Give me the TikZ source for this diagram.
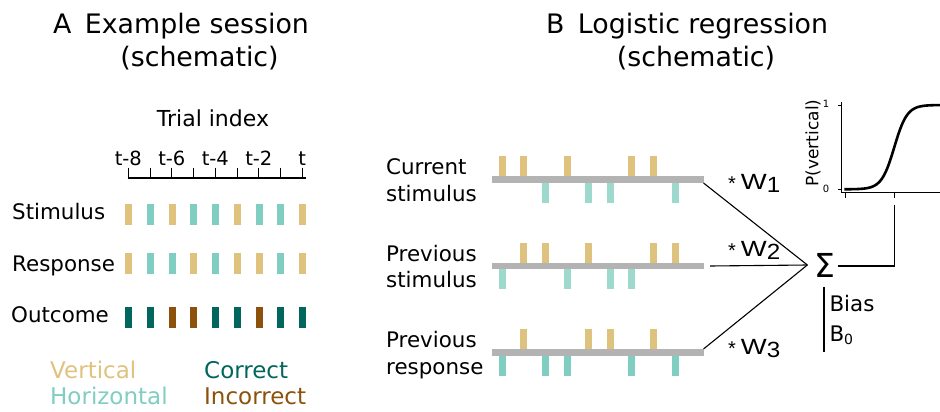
\documentclass[tikz,border=0pt]{standalone}
\usepackage{fontspec}
\setmainfont{DejaVu Sans}
\newfontfamily\arialfont{Liberation Sans}
\definecolor{vert}{HTML}{DFC27D}
\definecolor{horz}{HTML}{80CDC1}
\definecolor{horzl}{HTML}{9DD9CD}
\definecolor{corr}{HTML}{01665E}
\definecolor{incorr}{HTML}{8C510A}
\definecolor{track}{HTML}{B3B3B3}
\tikzset{
  fnt/.style={font=\fontsize{#1}{#1}\selectfont},
  lab/.style={inner sep=0pt, anchor=base west, fnt=21.4},
  ttl/.style={inner sep=0pt, anchor=base, fnt=26.8},
  tlab/.style={inner sep=0pt, anchor=base, fnt=19.5},
  leg/.style={inner sep=0pt, anchor=base west, fnt=23},
  wlab/.style={inner sep=0pt, anchor=base west, font=\arialfont\fontsize{22}{22}\selectfont},
  conn/.style={line width=1.1pt, black},
}
\newcommand{\vbar}[3]{\fill[#3] (#1-3.5,#2) rectangle (#1+3.5,#2+21);}
\newcommand{\upbar}[3]{\fill[#3] (#1-3.5,#2-3.3) rectangle (#1+3.5,#2-23.3);}
\newcommand{\dnbar}[3]{\fill[#3] (#1-3.5,#2+3.3) rectangle (#1+3.5,#2+23.3);}
\newcommand{\Wlab}[1]{\raisebox{-1pt}{\fontsize{20}{20}\selectfont *}\hspace{5pt}\scalebox{1.25}[1]{W}\raisebox{-3pt}{\scalebox{1.1}[1]{#1}}}
\begin{document}
\begin{tikzpicture}[x=1pt,y=-1pt]
\useasboundingbox (0,0) rectangle (940,412);

% ---------- Panel A ----------
\node[ttl, anchor=base west] (tA1) at (53,33.3) {A\hspace{0.5em}Example session};
\node[ttl] (tA2) at (199.5,66.5) {(schematic)};

\node[lab, anchor=base, fnt=22] (trial) at (213,126.7) {Trial index};

\draw[line width=2.2pt] (127.5,178) -- (305.5,178);
\foreach \i in {0,...,8} {
  \draw[line width=1pt] (128.3+21.75*\i,167.5) -- (128.3+21.75*\i,178);
}
\node[tlab] (t8) at (128.3,165) {t-8};
\node[tlab] (t6) at (171.8,165) {t-6};
\node[tlab] (t4) at (215.3,165) {t-4};
\node[tlab] (t2) at (258.8,165) {t-2};
\node[tlab] (t0) at (302.3,165) {t};

\node[lab] (stim) at (12,219.3) {Stimulus};
\node[lab] (resp) at (12,271.7) {Response};
\node[lab] (outc) at (11,322) {Outcome};

% stimulus row
\foreach \c [count=\k from 0] in {vert,horz,vert,horz,horz,vert,horz,horz,vert} {
  \vbar{128.6+21.75*\k}{204.3}{\c}
}
% response row
\foreach \c [count=\k from 0] in {vert,horz,horz,vert,horz,vert,vert,horz,vert} {
  \vbar{128.6+21.75*\k}{253}{\c}
}
% outcome row
\foreach \c [count=\k from 0] in {corr,corr,incorr,incorr,corr,corr,incorr,corr,corr} {
  \vbar{128.6+21.75*\k}{306.7}{\c}
}

\node[leg, text=vert] (lv) at (50,378.3) {Vertical};
\node[leg, text=horz] (lh) at (50,404.3) {Horizontal};
\node[leg, text=corr] (lc) at (204,378.3) {Correct};
\node[leg, text=incorr] (li) at (204,404.3) {Incorrect};

% ---------- Panel B ----------
\node[ttl, anchor=base west] (tB1) at (546,33.3) {B\hspace{0.5em}Logistic regression};
\node[ttl] (tB2) at (696,66.5) {(schematic)};

\node[lab] (cs1) at (386,174) {Current};
\node[lab] (cs2) at (386,201) {stimulus};
\node[lab] (ps1) at (386,261) {Previous};
\node[lab] (ps2) at (386,287.7) {stimulus};
\node[lab] (pr1) at (386,347.3) {Previous};
\node[lab] (pr2) at (386,374.3) {response};

% row 1: current stimulus (U U D U D D U U D)
\foreach \d [count=\k from 0] in {1,1,0,1,0,0,1,1,0} {
  \ifnum\d=1 \upbar{502.3+21.6*\k}{179.4}{vert} \else \dnbar{502.3+21.6*\k}{179.4}{horzl} \fi
}
% row 2: previous stimulus
\foreach \d [count=\k from 0] in {0,1,1,0,1,0,0,1,1} {
  \ifnum\d=1 \upbar{502.3+21.6*\k}{266}{vert} \else \dnbar{502.3+21.6*\k}{266}{horzl} \fi
}
% row 3: previous response
\foreach \d [count=\k from 0] in {0,1,0,0,1,1,0,1,0} {
  \ifnum\d=1 \upbar{502.3+21.6*\k}{352.7}{vert} \else \dnbar{502.3+21.6*\k}{352.7}{horz} \fi
}
\draw[track, line width=6.7pt] (492,179.4) -- (704,179.4);
\draw[track, line width=6.7pt] (492,266) -- (704,266);
\draw[track, line width=6.7pt] (492,352.7) -- (704,352.7);

\coordinate (g1) at (703.5,183);
\coordinate (g2) at (710,266);
\coordinate (g3) at (703.5,349);

\node[inner sep=0pt, fnt=33] (sig) at (825,265) {Σ};
\coordinate (sin) at ([xshift=-7pt]sig.west);
\coordinate (sout) at ([xshift=2pt, yshift=-1pt]sig.east);

\draw[conn] (g1) -- (sin);
\draw[conn] (g2) -- (sin);
\draw[conn] (g3) -- (sin);

\node[wlab] (w1) at (728,189.3) {\Wlab{1}};
\node[wlab] (w2) at (728,256.7) {\Wlab{2}};
\node[wlab] (w3) at (728,354) {\Wlab{3}};

% bias
\draw[conn] (824,286.7) -- (824,351.7);
\node[lab] (bias) at (829.3,311.7) {Bias};
\node[lab] (b0) at (829.3,341.7) {B\raisebox{-2.5pt}{\fontsize{14}{14}\selectfont 0}};

% plot
\draw[line width=1.4pt] (841.7,101.7) -- (841.7,192.5) -- (940,192.5);
\draw[line width=1pt] (838,105) -- (841.7,105);
\draw[line width=1pt] (838,189.3) -- (841.7,189.3);
\draw[line width=1pt] (845.7,192.5) -- (845.7,198);
\draw[line width=1pt] (894.3,192.5) -- (894.3,198);
\node[inner sep=0pt, fnt=10] (y1) at (826,104) {1};
\node[inner sep=0pt, fnt=10] (y0) at (826,189) {0};
\node[inner sep=0pt, fnt=17, rotate=90] (pv) at (813,143) {P(vertical)};
\draw[line width=2.6pt, domain=844.3:941, samples=120, smooth]
  plot (\x, {189.3 - 84.3/(1+exp(-(\x-894.3)/6.4))});
\coordinate (ptick) at (894.3,205);

\draw[conn] (sout) -| (ptick);
\end{tikzpicture}
\end{document}
